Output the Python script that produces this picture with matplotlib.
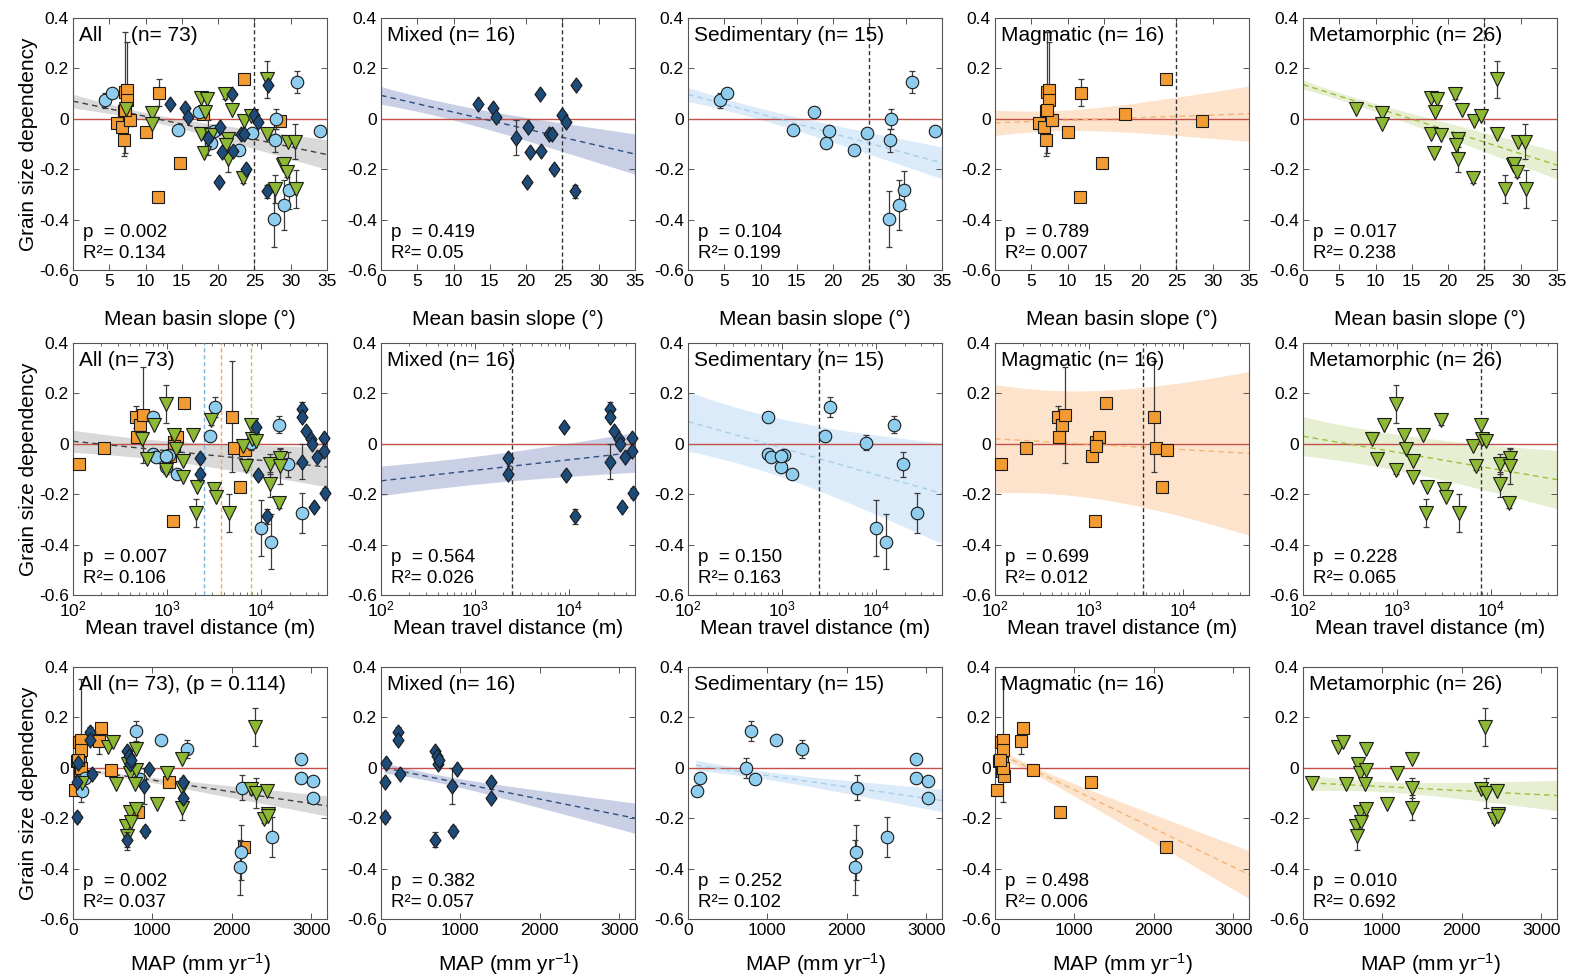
import numpy as np
import matplotlib
matplotlib.use('Agg')
import matplotlib.pyplot as plt

plt.rcParams['font.family'] = ['Liberation Sans', 'DejaVu Sans']
plt.rcParams['mathtext.fontset'] = 'custom'
plt.rcParams['mathtext.rm'] = 'Liberation Sans'
plt.rcParams['mathtext.default'] = 'regular'

# ---------------- data ----------------
# row 1: mean basin slope (deg)
mix_slope = [13.4, 15.4, 15.9, 18.6, 20.2, 20.5, 21.9, 22.0, 20.1, 23.1, 23.5, 23.9, 24.9, 25.5, 26.9, 26.8]
mix_slope_gsd = [0.057, 0.043, 0.007, -0.075, -0.033, -0.13, 0.10, -0.128, -0.25, -0.062, -0.062, -0.20, 0.017, -0.013, 0.135, -0.288]
mix_slope_err = [0, 0, 0, 0.07, 0, 0, 0, 0, 0.015, 0, 0, 0.015, 0, 0, 0.015, 0.025]

sed_slope = [4.35, 5.4, 17.4, 14.5, 19.4, 19.0, 22.9, 24.7, 28.0, 27.8, 30.9, 34.0, 27.7, 29.1, 29.8]
sed_slope_gsd = [0.073, 0.103, 0.028, -0.044, -0.048, -0.097, -0.123, -0.056, 0.0, -0.086, 0.146, -0.049, -0.397, -0.343, -0.281]
sed_slope_err = [0.03, 0.015, 0, 0, 0, 0.01, 0, 0, 0.04, 0.045, 0.045, 0, 0.11, 0.1, 0.075]

mag_slope = [6.0, 6.7, 7.0, 6.96, 7.14, 7.47, 7.4, 7.8, 10.1, 11.8, 11.75, 14.8, 17.97, 23.5, 28.5, 7.2]
mag_slope_gsd = [-0.018, -0.033, 0.03, -0.086, 0.106, 0.114, 0.073, -0.005, -0.053, 0.104, -0.312, -0.174, 0.02, 0.158, -0.009, 0.035]
mag_slope_err = [0, 0, 0, 0.06, 0.24, 0.19, 0, 0.025, 0, 0.055, 0.015, 0.01, 0, 0, 0, 0]

meta_slope = [7.25, 10.9, 10.9, 17.6, 18.4, 18.2, 17.6, 19.0, 18.1, 21.0, 21.9, 21.3, 21.1, 21.4, 23.4, 23.6,
              24.5, 26.7, 26.8, 27.8, 28.9, 29.1, 29.6, 29.5, 30.6, 30.7]
meta_slope_gsd = [0.04, 0.024, -0.022, 0.081, 0.077, 0.026, -0.06, -0.066, -0.135, 0.097, 0.033, -0.08, -0.105, -0.16,
                  -0.234, -0.007, 0.013, 0.156, -0.062, -0.278, -0.184, -0.181, -0.091, -0.21, -0.091, -0.278]
meta_slope_err = [0, 0, 0, 0, 0, 0, 0, 0, 0, 0.02, 0, 0, 0, 0.05, 0.02, 0, 0, 0.075, 0, 0.055, 0, 0.01, 0, 0.02, 0.07, 0.075]

# row 2: mean travel distance (m)
mix_dist = [2210, 2210, 8900, 9300, 11600, 27400, 27400, 29700, 33900, 35000, 26900, 39600, 46700, 46700, 36500, 47800]
mix_dist_gsd = [-0.055, -0.121, 0.067, -0.124, -0.288, 0.139, 0.107, 0.051, 0.018, -0.001, -0.071, -0.054, 0.024, -0.028, -0.249, -0.196]
mix_dist_err = [0.015, 0.02, 0, 0.015, 0.03, 0.025, 0.015, 0, 0, 0, 0.07, 0, 0, 0, 0.015, 0.02]

sed_dist = [703, 703, 762, 1054, 973, 1271, 2866, 3213, 7730, 15400, 19200, 9860, 12600, 27200, 980]
sed_dist_gsd = [0.106, -0.042, -0.051, -0.044, -0.094, -0.119, 0.03, 0.145, 0.005, 0.076, -0.081, -0.335, -0.388, -0.275, -0.047]
sed_dist_err = [0.015, 0, 0, 0.015, 0.015, 0, 0, 0.04, 0.03, 0.035, 0.05, 0.11, 0.11, 0.08, 0]

mag_dist = [115, 214, 465, 513, 557, 484, 1524, 1071, 1191, 1260, 1191, 1161, 4860, 5190, 6740, 5970]
mag_dist_gsd = [-0.081, -0.016, 0.106, 0.073, 0.115, 0.026, 0.162, -0.05, 0.008, 0.027, -0.008, -0.308, 0.108, -0.016, -0.025, -0.17]
mag_dist_err = [0, 0, 0.045, 0.03, 0.19, 0, 0, 0, 0, 0, 0, 0.015, 0.22, 0, 0, 0]

meta_dist = [543, 614, 724, 964, 964, 1180, 1230, 1472, 1485, 1898, 2060, 2010, 2900, 3150, 3280, 4550, 6470,
             6850, 7740, 8070, 8770, 12450, 12450, 15780, 15780, 15500]
meta_dist_gsd = [0.02, -0.059, 0.073, 0.157, -0.105, 0.033, -0.022, -0.068, -0.133, 0.033, -0.173, -0.274, 0.095,
                 -0.179, -0.212, -0.274, -0.009, -0.088, 0.076, 0.021, 0.013, -0.081, -0.16, -0.058, -0.09, -0.233]
meta_dist_err = [0, 0, 0, 0.075, 0.015, 0, 0, 0, 0, 0, 0, 0.055, 0.02, 0.015, 0, 0.075, 0, 0.015, 0, 0, 0, 0.04,
                 0.05, 0.04, 0.07, 0.02]

# row 3: mean annual precipitation (mm/yr)
mix_map = [50, 55, 60, 215, 220, 235, 680, 700, 720, 960, 900, 905, 680, 1380, 1380, 730]
mix_map_gsd = [-0.197, -0.055, 0.02, 0.141, 0.109, -0.026, 0.065, 0.045, 0.015, -0.003, -0.072, -0.25, -0.285, -0.055, -0.118, 0.03]
mix_map_err = [0.02, 0, 0, 0.02, 0.015, 0, 0, 0, 0, 0, 0.07, 0.02, 0.03, 0, 0, 0]

sed_map = [119, 150, 797, 730, 847, 1114, 1440, 2127, 2114, 2110, 2508, 2870, 2870, 3020, 3020]
sed_map_gsd = [-0.092, -0.04, 0.147, 0.0, -0.045, 0.109, 0.075, -0.079, -0.336, -0.395, -0.274, 0.033, -0.04, -0.053, -0.118]
sed_map_err = [0, 0, 0.04, 0.04, 0, 0.015, 0.035, 0.05, 0.11, 0.11, 0.08, 0, 0, 0, 0]

mag_map = [21, 55, 76, 105, 97, 88, 84, 114, 105, 358, 328, 476, 813, 1213, 2156, 62]
mag_map_gsd = [-0.089, 0.026, 0.101, 0.109, 0.072, 0.02, -0.013, -0.033, 0.0, 0.159, 0.105, -0.009, -0.175, -0.055, -0.313, 0.03]
mag_map_err = [0, 0, 0, 0.245, 0, 0, 0, 0, 0, 0, 0.05, 0, 0.01, 0, 0.015, 0]

meta_map = [119, 436, 508, 542, 669, 678, 699, 720, 720, 792, 780, 797, 1059, 1186, 1377, 1377, 1377, 2297, 2246,
            2309, 2449, 2407, 2458, 730, 797, 2460]
meta_map_gsd = [-0.059, 0.083, 0.101, -0.066, -0.23, -0.27, 0.017, -0.02, -0.175, 0.075, -0.066, -0.007, -0.145,
                -0.02, 0.036, -0.079, -0.158, 0.161, -0.083, -0.101, -0.092, -0.204, -0.184, -0.217, -0.165, -0.19]
meta_map_err = [0, 0, 0, 0, 0.02, 0.055, 0, 0, 0, 0, 0, 0, 0, 0, 0, 0.04, 0.05, 0.075, 0, 0.06, 0, 0.015, 0.01, 0, 0, 0]

# regression lines and 95% bands per panel (columns: All, Mixed, Sed, Mag, Meta)
fit_x0 = [[0, 0, 0, 0, 0], [100, 100, 100, 100, 100], [40, 40, 100, 105, 100]]
fit_x1 = [[35, 35, 35, 35, 35], [5e4, 5e4, 5e4, 5e4, 5e4], [3200, 3200, 3200, 3200, 3200]]
fit_y0 = [[0.07, 0.093, 0.097, -0.016, 0.136], [0.01, -0.147, 0.089, 0.02, 0.03], [-0.004, 0.0, 0.01, 0.049, -0.06]]
fit_y1 = [[-0.142, -0.14, -0.175, 0.02, -0.184], [-0.092, -0.034, -0.197, -0.038, -0.142], [-0.151, -0.2, -0.13, -0.424, -0.11]]
band_h0 = [[0.027, 0.035, 0.028, 0.05, 0.017], [0.044, 0.059, 0.118, 0.215, 0.077], [0.008, 0.02, 0.02, 0.017, 0.03]]
band_h1 = [[0.059, 0.08, 0.063, 0.11, 0.055], [0.079, 0.079, 0.2, 0.325, 0.116], [0.04, 0.06, 0.045, 0.095, 0.06]]
band_hmin = [[0.015, 0.03, 0.022, 0.04, 0.014], [0.038, 0.055, 0.11, 0.205, 0.07], [0.006, 0.015, 0.015, 0.014, 0.02]]

# threshold lines
slope_thresh = 25
dist_thresh = [2450, 2450, 3700, 7700]   # mixed, sed, mag, meta

titles = [['All     (n= 73)', 'Mixed (n= 16)', 'Sedimentary (n= 15)', 'Magmatic (n= 16)', 'Metamorphic (n= 26)'],
          ['All (n= 73)', 'Mixed (n= 16)', 'Sedimentary (n= 15)', 'Magmatic (n= 16)', 'Metamorphic (n= 26)'],
          ['All (n= 73), (p = 0.114)', 'Mixed (n= 16)', 'Sedimentary (n= 15)', 'Magmatic (n= 16)', 'Metamorphic (n= 26)']]
p_vals = [['0.002', '0.419', '0.104', '0.789', '0.017'],
          ['0.007', '0.564', '0.150', '0.699', '0.228'],
          ['0.002', '0.382', '0.252', '0.498', '0.010']]
r2_vals = [['0.134', '0.05', '0.199', '0.007', '0.238'],
           ['0.106', '0.026', '0.163', '0.012', '0.065'],
           ['0.037', '0.057', '0.102', '0.006', '0.692']]
x_labels = ['Mean basin slope (°)', 'Mean travel distance (m)', 'MAP (mm yr$^{-1}$)']

# ---------------- styles ----------------
grp = ['mix', 'sed', 'mag', 'meta']
data = {
    'mix': [(mix_slope, mix_slope_gsd, mix_slope_err), (mix_dist, mix_dist_gsd, mix_dist_err), (mix_map, mix_map_gsd, mix_map_err)],
    'sed': [(sed_slope, sed_slope_gsd, sed_slope_err), (sed_dist, sed_dist_gsd, sed_dist_err), (sed_map, sed_map_gsd, sed_map_err)],
    'mag': [(mag_slope, mag_slope_gsd, mag_slope_err), (mag_dist, mag_dist_gsd, mag_dist_err), (mag_map, mag_map_gsd, mag_map_err)],
    'meta': [(meta_slope, meta_slope_gsd, meta_slope_err), (meta_dist, meta_dist_gsd, meta_dist_err), (meta_map, meta_map_gsd, meta_map_err)],
}
face = {'mix': '#1d4b7a', 'sed': '#8ecdee', 'mag': '#f29b32', 'meta': '#8cb833'}
diamond = [(0, 1), (0.72, 0), (0, -1), (-0.72, 0), (0, 1)]
mark = {'mix': diamond, 'sed': 'o', 'mag': 's', 'meta': 'v'}
msize = {'mix': 11, 'sed': 9, 'mag': 8.2, 'meta': 9.5}
band_col = ['#d9d9d9', '#c9cfe4', '#dcebf9', '#fde3cc', '#e7efd3']
line_col = ['#404040', '#2f4f80', '#a6cfea', '#f2b575', '#9dbf3c']
vline_col = {'mix': '#1d4b7a', 'sed': '#7ab6df', 'mag': '#f2a860', 'meta': '#b9c94f'}
order_all = ['mag', 'sed', 'meta', 'mix']   # drawing order in "All" panels


def draw_band(ax, r, c, log):
    x0, x1 = fit_x0[r][c], fit_x1[r][c]
    y0, y1 = fit_y0[r][c], fit_y1[r][c]
    h0, h1, hm = band_h0[r][c], band_h1[r][c], band_hmin[r][c]
    u0, u1 = (np.log10(x0), np.log10(x1)) if log else (x0, x1)
    q = np.sqrt((h0**2 - hm**2) / (h1**2 - hm**2))
    um = (u0 + q * u1) / (1 + q)
    k = (h1**2 - hm**2) / (u1 - um)**2
    u = np.linspace(u0, u1, 200)
    yc = y0 + (y1 - y0) * (u - u0) / (u1 - u0)
    hw = np.sqrt(hm**2 + k * (u - um)**2)
    x = 10**u if log else u
    ax.fill_between(x, yc - hw, yc + hw, color=band_col[c], lw=0, zorder=1)
    ax.plot(x, yc, ls=(0, (4, 3)), color=line_col[c], lw=1.0, zorder=2.5)


def draw_group(ax, g, r, z):
    x, y, e = (np.asarray(a, dtype=float) for a in data[g][r])
    m = e > 0
    if m.any():
        ax.errorbar(x[m], y[m], yerr=e[m], fmt='none', ecolor='#3a3a3a', elinewidth=0.9,
                    capsize=2.5, capthick=0.9, zorder=z, clip_on=False)
    ax.plot(x, y, ls='none', marker=mark[g], ms=msize[g], mfc=face[g], mec='#1a1a1a',
            mew=0.8, zorder=z + 0.05, clip_on=False)


fig = plt.figure(figsize=(15.71, 9.8), dpi=100)
col_left = [73, 381, 688, 995, 1303]
row_top = [18, 343, 667]
W, H = 254, 252

for r in range(3):
    for c in range(5):
        ax = fig.add_axes([col_left[c] / 1571, 1 - (row_top[r] + H) / 980, W / 1571, H / 980])
        log = (r == 1)
        if log:
            ax.set_xscale('log')
        draw_band(ax, r, c, log)
        ax.axhline(0, color='#c4504a', lw=1.0, zorder=2)

        # threshold lines
        if r == 0:
            ax.axvline(slope_thresh, color='#333333', lw=1.0, ls=(0, (3, 2)), zorder=2.6)
        elif r == 1:
            if c == 0:
                for g, v in zip(grp, dist_thresh):
                    if g != 'mix':
                        ax.axvline(v, color=vline_col[g], lw=1.0, ls=(0, (3, 2)), zorder=2.6)
            else:
                ax.axvline(dist_thresh[c - 1], color='#333333', lw=1.0, ls=(0, (3, 2)), zorder=2.6)

        groups = order_all if c == 0 else [grp[c - 1]]
        for i, g in enumerate(groups):
            draw_group(ax, g, r, 3 + 0.1 * i)

        ax.set_ylim(-0.6, 0.4)
        ax.set_yticks([-0.6, -0.4, -0.2, 0, 0.2, 0.4])
        ax.set_yticklabels(['-0.6', '-0.4', '-0.2', '0', '0.2', '0.4'])
        if r == 0:
            ax.set_xlim(0, 35)
            ax.set_xticks(np.arange(0, 36, 5))
        elif r == 1:
            ax.set_xlim(100, 5e4)
            ax.set_xticks([1e2, 1e3, 1e4])
            ax.set_xticklabels(['10$^2$', '10$^3$', '10$^4$'])
            ax.xaxis.set_minor_locator(matplotlib.ticker.LogLocator(base=10, subs=np.arange(2, 10)))
            ax.xaxis.set_minor_formatter(matplotlib.ticker.NullFormatter())
        else:
            ax.set_xlim(0, 3200)
            ax.set_xticks([0, 1000, 2000, 3000])

        ax.tick_params(which='both', direction='in', top=True, right=True, labelsize=12.5,
                       color='#555555', pad=3)
        ax.tick_params(which='major', length=4, width=0.7)
        ax.tick_params(which='minor', length=2, width=0.6)
        for s in ax.spines.values():
            s.set_color('#555555')
            s.set_linewidth(0.8)

        ax.set_xlabel(x_labels[r], fontsize=15, labelpad=[15, 0, 9][r])
        if c == 0:
            ax.set_ylabel('Grain size dependency', fontsize=15, labelpad=1)

        ax.text(0.025, 0.93, titles[r][c], transform=ax.transAxes, fontsize=15, va='center', ha='left', zorder=6)
        ax.text(0.04, 0.148, 'p  = ' + p_vals[r][c], transform=ax.transAxes, fontsize=13.5, va='center', ha='left', zorder=6)
        ax.text(0.04, 0.066, 'R²= ' + r2_vals[r][c], transform=ax.transAxes, fontsize=13.5, va='center', ha='left', zorder=6)

fig.savefig('out.png', dpi=100)
